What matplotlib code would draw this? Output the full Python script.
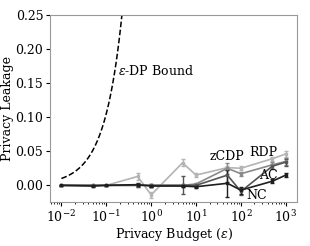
import numpy as np
import matplotlib
matplotlib.use("Agg")
import matplotlib.pyplot as plt

# ---------- data ----------
epsilons = [0.01, 0.05, 0.1, 0.5, 1, 5, 10, 50, 100, 500, 1000]

rdp_mean = [0.000, 0.000, 0.000, 0.013, -0.014, 0.033, 0.015, 0.026, 0.025, 0.039, 0.046]
rdp_std = [0.001, 0.001, 0.001, 0.005, 0.004, 0.005, 0.003, 0.003, 0.003, 0.003, 0.004]

zcdp_mean = [0.000, 0.000, 0.000, 0.000, 0.000, 0.000, 0.002, 0.025, 0.017, 0.030, 0.035]
zcdp_std = [0.001, 0.001, 0.001, 0.002, 0.002, 0.002, 0.002, 0.008, 0.003, 0.004, 0.005]

ac_mean = [0.000, 0.000, 0.000, 0.000, 0.000, 0.000, 0.000, 0.015, -0.009, 0.028, 0.034]
ac_std = [0.001, 0.001, 0.001, 0.002, 0.002, 0.013, 0.002, 0.010, 0.005, 0.004, 0.005]

nc_mean = [0.000, -0.001, 0.000, 0.001, -0.001, -0.001, -0.002, 0.003, -0.007, 0.006, 0.015]
nc_std = [0.001, 0.001, 0.001, 0.002, 0.002, 0.002, 0.002, 0.020, 0.005, 0.003, 0.003]

series = [
    ("RDP", rdp_mean, rdp_std, "#b4b4b4"),
    ("zCDP", zcdp_mean, zcdp_std, "#8a8a8a"),
    ("AC", ac_mean, ac_std, "#555555"),
    ("NC", nc_mean, nc_std, "#1e1e1e"),
]

labels = [("zCDP", 49, 0.042), ("RDP", 310, 0.048), ("AC", 400, 0.014), ("NC", 230, -0.015)]

# ---------- plot ----------
plt.rcParams["font.family"] = "DejaVu Serif"
plt.rcParams["mathtext.fontset"] = "dejavuserif"

fig, ax = plt.subplots(figsize=(3.1, 2.46), dpi=100)

eps_line = np.logspace(-2, 3, 400)
ax.plot(eps_line, np.exp(eps_line) - 1, "k--", linewidth=1.1)

for name, mean, std, col in series:
    ax.errorbar(epsilons, mean, yerr=std, color=col, linewidth=1.2,
                marker="s", markersize=1.8, capsize=1.5, elinewidth=1.0)

for name, x, y in labels:
    ax.text(x, y, name, ha="center", va="center", fontsize=9)
ax.text(0.18, 0.168, r"$\epsilon$-DP Bound", ha="left", va="center", fontsize=9)

ax.set_xscale("log")
ax.set_xlim(10 ** -2.25, 10 ** 3.25)
ax.set_ylim(-0.024, 0.25)
ax.set_yticks([0.0, 0.05, 0.10, 0.15, 0.20, 0.25])
ax.set_xticks([0.01, 0.1, 1, 10, 100, 1000])
ax.set_xlabel(r"Privacy Budget ($\epsilon$)", fontsize=9, labelpad=1)
ax.set_ylabel("Privacy Leakage", fontsize=9, labelpad=1)
ax.tick_params(labelsize=9, length=3, pad=2)
ax.tick_params(which="minor", length=1.5)
for s in ax.spines.values():
    s.set_color("#999999")

fig.subplots_adjust(left=0.162, right=0.958, top=0.94, bottom=0.18)
fig.savefig("out.png", dpi=100)
